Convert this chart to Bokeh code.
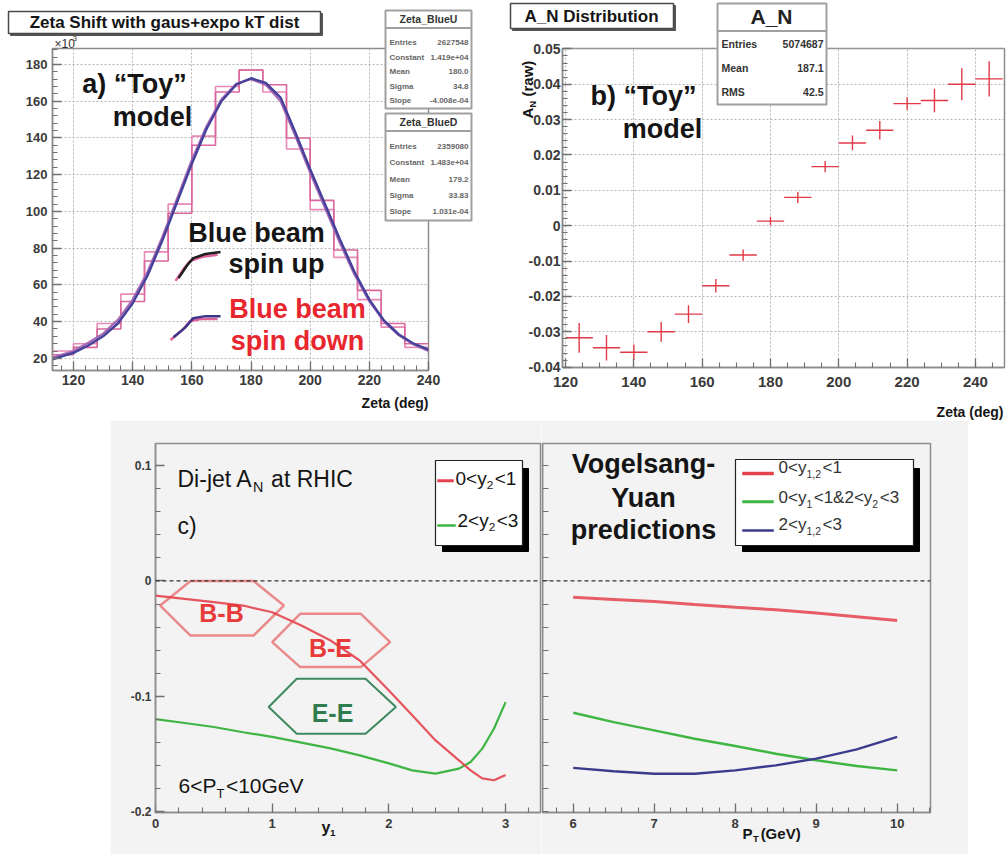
import math
from bokeh.plotting import figure
from bokeh.models import (Label, BoxAnnotation, FixedTicker, Span, Range1d,
                          NumeralTickFormatter, GridBox)
from bokeh.embed import file_html
from bokeh.resources import INLINE

FONT = "Liberation Sans"

# ---------------- a) zeta distributions for the two spin states ----------------
zeta_edges = [112, 120, 128, 136, 144, 152, 160, 168, 176, 184, 192, 200, 208, 216, 224, 232, 240]
zeta_hist_up = [22, 26, 36, 51, 73, 99, 136, 165, 177, 169, 140, 106, 79, 57, 39, 28]
zeta_hist_down = [24, 28, 39, 55, 78, 104, 141, 168, 177, 165, 134, 101, 75, 52, 37, 26]
fit_zeta = [113, 115, 120, 125, 130, 135, 140, 145, 150, 155, 160, 165, 170, 175, 180,
            185, 190, 195, 200, 205, 210, 215, 220, 225, 230, 235, 240]
fit_up = [19.5, 20.5, 23, 27, 32, 39, 50, 65, 84, 105, 126, 145, 160, 169, 172.5,
          170, 162, 143, 123, 104, 85, 67, 52, 40.5, 33, 28, 24.8]
fit_down = [20.5, 21.5, 24, 28.5, 33.5, 41, 52, 67, 86, 107, 128, 146.5, 161, 169.5, 172,
            169, 160, 141, 121, 102, 83, 65.5, 51, 40, 32.5, 27.5, 24]
# little line keys next to the spin-state captions
key_up_x = [155.5, 158.5, 160.5, 164.6, 169.7]
key_up_y = [63.7, 70.8, 74.6, 76.8, 77.9]
key_down_x = [153.8, 157.8, 160.5, 164.6, 169.7]
key_down_y = [31.5, 36.9, 41.9, 43.0, 43.0]
stats_up = [("Entries", "2627548"), ("Constant", "1.419e+04"), ("Mean", "180.0"),
            ("Sigma", "34.8"), ("Slope", "-4.008e-04")]
stats_down = [("Entries", "2359080"), ("Constant", "1.483e+04"), ("Mean", "179.2"),
              ("Sigma", "33.83"), ("Slope", "1.031e-04")]

# ---------------- b) raw asymmetry vs zeta ----------------
an_zeta = [124, 132, 140, 148, 156, 164, 172, 180, 188, 196, 204, 212, 220, 228, 236, 244]
an_val = [-0.0317, -0.0345, -0.0358, -0.0300, -0.0250, -0.0170, -0.0083, 0.0013,
          0.0080, 0.0167, 0.0234, 0.0270, 0.0345, 0.0354, 0.0400, 0.0415]
an_err = [0.0042, 0.0036, 0.0022, 0.0028, 0.0025, 0.0019, 0.0016, 0.0012,
          0.0016, 0.0016, 0.0021, 0.0026, 0.0018, 0.0033, 0.0045, 0.0050]
an_half_bin = 4
stats_an = [("Entries", "5074687"), ("Mean", "187.1"), ("RMS", "42.5")]

# ---------------- c) di-jet A_N vs y1 ----------------
c_y1 = [0, 0.25, 0.5, 0.75, 1.0, 1.25, 1.5, 1.75, 2.0, 2.2, 2.4, 2.6, 2.7, 2.8, 2.9, 3.0]
c_an_fwd0 = [-0.0127, -0.0156, -0.0184, -0.0213, -0.0271, -0.0386, -0.0516, -0.0689,
             -0.0948, -0.1164, -0.1381, -0.1553, -0.1640, -0.1710, -0.1726, -0.1680]
c_an_fwd2 = [-0.1196, -0.1230, -0.1265, -0.1310, -0.1350, -0.1400, -0.1450, -0.1510,
             -0.1580, -0.1640, -0.1669, -0.1625, -0.1568, -0.1452, -0.1280, -0.1049]
hex_bb_x = [0.04, 0.30, 0.84, 1.10, 0.84, 0.30]
hex_bb_y = [-0.0213, 0.0, 0.0, -0.0213, -0.0473, -0.0473]
hex_be_x = [1.00, 1.24, 1.76, 2.01, 1.76, 1.24]
hex_be_y = [-0.0530, -0.0285, -0.0285, -0.0530, -0.0746, -0.0746]
hex_ee_x = [0.97, 1.21, 1.80, 2.06, 1.80, 1.21]
hex_ee_y = [-0.1092, -0.0847, -0.0847, -0.1092, -0.1323, -0.1323]

# ---------------- d) Vogelsang-Yuan predictions vs pT ----------------
d_pt = [6, 6.5, 7, 7.5, 8, 8.5, 9, 9.5, 10]
d_an_cc = [-0.0141, -0.0160, -0.0179, -0.0205, -0.0228, -0.0250, -0.0277, -0.0310, -0.0343]
d_an_cf = [-0.1141, -0.1222, -0.1294, -0.1366, -0.1429, -0.1496, -0.1553, -0.1602, -0.1640]
d_an_ff = [-0.1619, -0.1648, -0.1669, -0.1669, -0.1640, -0.1597, -0.1539, -0.1458, -0.1351]

RED = "#e4424e"
GREEN = "#3fb544"
BLUE = "#3b3b8e"
GRAY_BG = "#f3f3f3"
PAGE_W, PAGE_H = 1006, 854

# Arial/Liberation advance widths (1/1000 em) used to lay out sub-scripted text
ADV = {"0": 556, "1": 556, "2": 556, "3": 556, "6": 556, "<": 584, "y": 500, "&": 667,
       ",": 278, "P": 667, "T": 611, "G": 778, "e": 556, "V": 667, "(": 333, ")": 333,
       "A": 667, "N": 722, " ": 278, "D": 722, "i": 222, "-": 333, "j": 222, "t": 278,
       "a": 556, "R": 722, "H": 722, "I": 278, "C": 722, "r": 333, "w": 722}


def text_width(s, size, bold=False):
    return sum(ADV.get(c, 556) for c in s) / 1000.0 * size * (1.06 if bold else 1.0)


def mapper(L, R, T, B, xr, yr):
    def fx(px):
        return xr[0] + (px - L) / (R - L) * (xr[1] - xr[0])

    def fy(py):
        return yr[1] - (py - T) / (B - T) * (yr[1] - yr[0])
    return fx, fy


def make_fig(page_left, page_top, width, height, frame, xr, yr, bg, border_bg):
    L, R, T, B = frame
    p = figure(width=width, height=height, x_range=Range1d(*xr), y_range=Range1d(*yr),
               output_backend="svg", toolbar_location=None, title=None,
               min_border_left=L - page_left, min_border_right=page_left + width - R,
               min_border_top=T - page_top, min_border_bottom=page_top + height - B)
    p.background_fill_color = bg
    p.border_fill_color = border_bg
    p.outline_line_color = "#8c8c8c"
    p.outline_line_width = 1.5
    return p, mapper(L, R, T, B, xr, yr)


def style_axis(ax, ticks, minor, size, standoff, fmt=None, major_in=9, minor_in=5):
    ax.ticker = FixedTicker(ticks=ticks, minor_ticks=minor)
    ax.major_tick_in = major_in
    ax.major_tick_out = 0
    ax.minor_tick_in = minor_in
    ax.minor_tick_out = 0
    ax.axis_line_color = "#8c8c8c"
    ax.axis_line_width = 1.5
    ax.major_tick_line_color = "#707070"
    ax.minor_tick_line_color = "#707070"
    ax.major_tick_line_width = 1.3
    ax.minor_tick_line_width = 1.1
    ax.major_label_text_font = FONT
    ax.major_label_text_font_size = f"{size}px"
    ax.major_label_text_font_style = "bold"
    ax.major_label_text_color = "#3a3a3a"
    ax.major_label_standoff = standoff
    if fmt is not None:
        ax.formatter = fmt


def label(p, m, px, py, text, size, color="#151515", bold=False, align="left", angle=0.0):
    fx, fy = m
    p.add_layout(Label(x=fx(px), y=fy(py), text=text, text_font=FONT,
                       text_font_size=f"{size}px",
                       text_font_style="bold" if bold else "normal",
                       text_color=color, text_align=align, text_baseline="middle",
                       angle=angle))


def rich(p, m, px, py, runs, size, color="#151515", bold=False):
    """Left-aligned text made of normal and subscript runs."""
    x = px
    for txt, sub in runs:
        s = size * 0.62 if sub else size
        y = py + (size * 0.36 if sub else 0)
        lead = len(txt) - len(txt.lstrip(" "))
        x += text_width(" " * lead, s, bold)
        label(p, m, x, y, txt.lstrip(" "), round(s, 1), color=color, bold=bold)
        x += text_width(txt.lstrip(" "), s, bold) + (1.5 if sub else 0)


def box(p, m, l, t, r, b, fill="white", line="#9a9a9a", lw=1.0, fill_alpha=1.0):
    fx, fy = m
    p.add_layout(BoxAnnotation(left=fx(l), right=fx(r), top=fy(t), bottom=fy(b),
                               fill_color=fill, fill_alpha=fill_alpha,
                               line_color=line, line_width=lw, line_alpha=1.0))


def grid_style(p, xticks, yticks):
    p.xgrid.ticker = FixedTicker(ticks=xticks)
    p.ygrid.ticker = FixedTicker(ticks=yticks)
    p.grid.grid_line_color = "#b4b4b4"
    p.grid.grid_line_dash = "2 2"
    p.grid.grid_line_width = 1


def frange(a, b, step):
    n = int(round((b - a) / step))
    return [round(a + i * step, 6) for i in range(n + 1)]


# ---------- page-wide transparent layer for titles, stat boxes and axis titles ----------
ov = figure(width=PAGE_W, height=PAGE_H, x_range=Range1d(0, PAGE_W), y_range=Range1d(PAGE_H, 0),
            output_backend="svg", toolbar_location=None, title=None,
            x_axis_type=None, y_axis_type=None,
            min_border_left=0, min_border_right=0, min_border_top=0, min_border_bottom=0)
ov.background_fill_alpha = 0
ov.border_fill_alpha = 0
ov.outline_line_color = None
ov.grid.visible = False
mo = (lambda v: v, lambda v: v)

# =============================== panel a ===============================
pa, ma = make_fig(0, 0, 495, 420, (52, 428, 48, 370), (112.9, 240.0), (13.4, 188.7),
                  "white", "white")
a_xt = frange(120, 240, 20)
a_yt = frange(20, 180, 20)
style_axis(pa.xaxis[0], a_xt, frange(112, 240, 4), 14, 4)
style_axis(pa.yaxis[0], a_yt, frange(16, 188, 4), 13, 5)
grid_style(pa, a_xt, a_yt)

hist_y_up = zeta_hist_up + [zeta_hist_up[-1]]
hist_y_down = zeta_hist_down + [zeta_hist_down[-1]]
pa.step(zeta_edges, hist_y_down, mode="after", line_color="#e889b6", line_width=1.6)
pa.step(zeta_edges, hist_y_up, mode="after", line_color="#d9669c", line_width=1.6)
pa.line(fit_zeta, fit_down, line_color="#a569b4", line_width=2.2)
pa.line(fit_zeta, fit_up, line_color="#45419a", line_width=2.4)

pa.line([x - 1.0 for x in key_up_x], [y - 1.5 for y in key_up_y], line_color="#e0609a", line_width=2.5)
pa.line(key_up_x, key_up_y, line_color="#1e1e1e", line_width=2.5)
pa.line([x - 1.0 for x in key_down_x], [y - 1.5 for y in key_down_y], line_color="#e0609a", line_width=2.5)
pa.line(key_down_x, key_down_y, line_color="#3d3588", line_width=2.5)

label(pa, ma, 134, 83, "a) \u201cToy\u201d", 27, bold=True, align="center")
label(pa, ma, 152, 116, "model", 27, bold=True, align="center")
label(pa, ma, 256, 232, "Blue beam", 27, bold=True, align="center")
label(pa, ma, 276, 263, "spin up", 27, bold=True, align="center")
label(pa, ma, 297, 308, "Blue beam", 27, color="#e8262e", bold=True, align="center")
label(pa, ma, 297, 340, "spin down", 27, color="#e8262e", bold=True, align="center")

# titles and stat boxes of panel a
box(ov, mo, 10, 13, 322, 35, fill="#555555", line="#555555", lw=1)
box(ov, mo, 8, 11, 320, 33, line="#4a4a4a", lw=1.5)
label(ov, mo, 164, 22, "Zeta Shift with gaus+expo kT dist", 17, bold=True, align="center")
label(ov, mo, 54, 43, "\u00d710", 12, color="#333")
label(ov, mo, 72, 38, "3", 8, color="#333")
for top, bottom, name, rows in ((10, 108, "Zeta_BlueU", stats_up), (113, 220, "Zeta_BlueD", stats_down)):
    box(ov, mo, 385, top, 471, bottom, line="#a0a0a0", lw=2)
    box(ov, mo, 385, top + 17, 471, top + 18, fill="#a0a0a0", line="#a0a0a0", lw=1)
    label(ov, mo, 428, top + 8.5, name, 10.5, color="#333", bold=True, align="center")
    step = (bottom - top - 26) / len(rows)
    for i, (k, v) in enumerate(rows):
        yy = top + 26 + step * 0.45 + i * step
        label(ov, mo, 389, yy, k, 8, color="#666", bold=True)
        label(ov, mo, 468, yy, v, 8, color="#666", bold=True, align="right")
label(ov, mo, 428, 402, "Zeta (deg)", 14, bold=True, align="right")

# =============================== panel b ===============================
pb, mb = make_fig(495, 0, 511, 417, (562, 1004, 48, 367), (119.12, 248.5), (-0.0401, 0.0501),
                  "white", "white")
b_xt = frange(120, 240, 20)
b_yt = frange(-0.04, 0.05, 0.01)
style_axis(pb.xaxis[0], b_xt, frange(120, 245, 5), 15, 9)
style_axis(pb.yaxis[0], b_yt, frange(-0.04, 0.05, 0.002), 14, 2,
           NumeralTickFormatter(format="0.[00]"))
grid_style(pb, b_xt, b_yt)

pb.segment([z - an_half_bin for z in an_zeta], an_val, [z + an_half_bin for z in an_zeta], an_val,
           line_color="#e23a48", line_width=1.4)
pb.segment(an_zeta, [v - e for v, e in zip(an_val, an_err)], an_zeta,
           [v + e for v, e in zip(an_val, an_err)], line_color="#e23a48", line_width=1.4)

label(pb, mb, 643, 95, "b) \u201cToy\u201d", 27, bold=True, align="center")
label(pb, mb, 662, 128, "model", 27, bold=True, align="center")

box(ov, mo, 512, 5, 675, 30, fill="#555555", line="#555555", lw=1)
box(ov, mo, 510, 3, 673, 28, line="#4a4a4a", lw=1.5)
label(ov, mo, 591, 16, "A_N Distribution", 17, bold=True, align="center")
box(ov, mo, 717, 3, 826, 104, line="#a0a0a0", lw=2)
box(ov, mo, 717, 30, 826, 31, fill="#a0a0a0", line="#a0a0a0", lw=1)
label(ov, mo, 771, 16, "A_N", 21, color="#222", bold=True, align="center")
for i, (k, v) in enumerate(stats_an):
    yy = 43 + i * 24
    label(ov, mo, 721, yy, k, 10.5, color="#333", bold=True)
    label(ov, mo, 823, yy, v, 10.5, color="#333", bold=True, align="right")
label(ov, mo, 1003, 411, "Zeta (deg)", 14, bold=True, align="right")
# rotated y title of panel b, N as a subscript
label(ov, mo, 527, 118, "A", 15, bold=True, angle=math.pi / 2)
label(ov, mo, 532, 107, "N", 9, bold=True, angle=math.pi / 2)
label(ov, mo, 527, 96, "(raw)", 15, bold=True, angle=math.pi / 2)

# =============================== panel c ===============================
c_xr = (0.0, 3.299)
cd_yr = (-0.2005, 0.119)
pc, mc = make_fig(110, 420, 431, 434, (155, 540, 443, 812), c_xr, cd_yr, GRAY_BG, GRAY_BG)
style_axis(pc.xaxis[0], [0, 1, 2, 3], frange(0, 3.2, 0.2), 13, 6)
style_axis(pc.yaxis[0], [-0.2, -0.1, 0.0, 0.1], frange(-0.2, 0.1, 0.02), 12, 4,
           NumeralTickFormatter(format="0.[0]"))
pc.grid.visible = False
pc.add_layout(Span(location=0, dimension="width", line_color="#333333", line_dash="4 3",
                   line_width=1.3))

pc.patch(hex_bb_x, hex_bb_y, fill_alpha=0, line_color="#ea8a8a", line_width=2.5)
pc.patch(hex_be_x, hex_be_y, fill_alpha=0, line_color="#ea8a8a", line_width=2.5)
pc.patch(hex_ee_x, hex_ee_y, fill_alpha=0, line_color="#3e8a60", line_width=2)
pc.line(c_y1, c_an_fwd2, line_color=GREEN, line_width=2.2)
pc.line(c_y1, c_an_fwd0, line_color=RED, line_width=2.2, line_alpha=0.9)

label(pc, mc, 221, 612, "B-B", 25, color="#e83a3a", bold=True, align="center")
label(pc, mc, 330, 647, "B-E", 25, color="#e83a3a", bold=True, align="center")
label(pc, mc, 332, 712, "E-E", 25, color="#2f7d4f", bold=True, align="center")

rich(pc, mc, 177, 478, [("Di-jet A", False), ("N", True), (" at RHIC", False)], 23)
label(pc, mc, 177, 525, "c)", 23)
rich(pc, mc, 178, 785, [("6<P", False), ("T", True), ("<10GeV", False)], 21)

# legend of panel c
box(pc, mc, 442, 468, 528, 551, fill="black", line="black", lw=1)
box(pc, mc, 435, 460, 522, 545, fill="white", line="#222222", lw=1.2)
box(pc, mc, 437, 479, 453, 481.5, fill=RED, line=RED, lw=0.5)
box(pc, mc, 437, 524, 455, 526, fill=GREEN, line=GREEN, lw=0.5)
rich(pc, mc, 455, 478, [("0<y", False), ("2", True), ("<1", False)], 19)
rich(pc, mc, 457, 520, [("2<y", False), ("2", True), ("<3", False)], 19)
rich(ov, mo, 321, 827, [("y", False), ("1", True)], 16, bold=True)

# =============================== panel d ===============================
pd_, md = make_fig(541, 420, 427, 434, (542, 930, 443, 812), (5.621, 10.411), cd_yr,
                   GRAY_BG, GRAY_BG)
style_axis(pd_.xaxis[0], [6, 7, 8, 9, 10], frange(5.8, 10.4, 0.2), 13, 6)
# left edge of panel d carries only tick marks (labels are on panel c)
style_axis(pd_.yaxis[0], [], frange(-0.2, 0.1, 0.02), 12, 0, minor_in=6)
pd_.grid.visible = False
pd_.add_layout(Span(location=0, dimension="width", line_color="#333333", line_dash="4 3",
                    line_width=1.3))

pd_.line(d_pt, d_an_cc, line_color=RED, line_width=3, line_alpha=0.85)
pd_.line(d_pt, d_an_cf, line_color=GREEN, line_width=2.4)
pd_.line(d_pt, d_an_ff, line_color=BLUE, line_width=2.4)

label(pd_, md, 643, 463, "Vogelsang-", 27, bold=True, align="center")
label(pd_, md, 643, 497, "Yuan", 27, bold=True, align="center")
label(pd_, md, 643, 529, "predictions", 27, bold=True, align="center")

box(pd_, md, 742, 468, 919, 551, fill="black", line="black", lw=1)
box(pd_, md, 735, 459, 913, 545, fill="white", line="#222222", lw=1.2)
box(pd_, md, 742, 471.5, 773, 474.5, fill=RED, line=RED, lw=0.5)
box(pd_, md, 742, 500, 773, 502.5, fill=GREEN, line=GREEN, lw=0.5)
box(pd_, md, 742, 529, 773, 531, fill=BLUE, line=BLUE, lw=0.5)
rich(pd_, md, 778, 467, [("0<y", False), ("1,2", True), ("<1", False)], 17, color="#333")
rich(pd_, md, 778, 497, [("0<y", False), ("1", True), ("<1&2<y", False), ("2", True), ("<3", False)],
     17, color="#333")
rich(pd_, md, 778, 524, [("2<y", False), ("1,2", True), ("<3", False)], 17, color="#333")
rich(ov, mo, 742, 833, [("P", False), ("T", True), ("(GeV)", False)], 15, bold=True)

# =============================== layout ===============================
# zero-size outer tracks keep the page-wide layer from sharing edges with the panels
# cols: 0 | 0-110 | 110-495 | 495-541 | 541-968 | 968-1006 | 0
# rows: 0 | 0-417 | 417-420 | 420-854 | 0
grid = GridBox(children=[(pa, 1, 1, 2, 2), (pb, 1, 3, 1, 3), (pc, 3, 2, 1, 2),
                         (pd_, 3, 4, 1, 1), (ov, 0, 0, 5, 7)],
               rows=["0px", "417px", "3px", "434px", "0px"],
               cols=["0px", "110px", "385px", "46px", "427px", "38px", "0px"],
               spacing=0)

open("out.html", "w").write(file_html(grid, INLINE, title="Zeta shift and di-jet A_N"))
